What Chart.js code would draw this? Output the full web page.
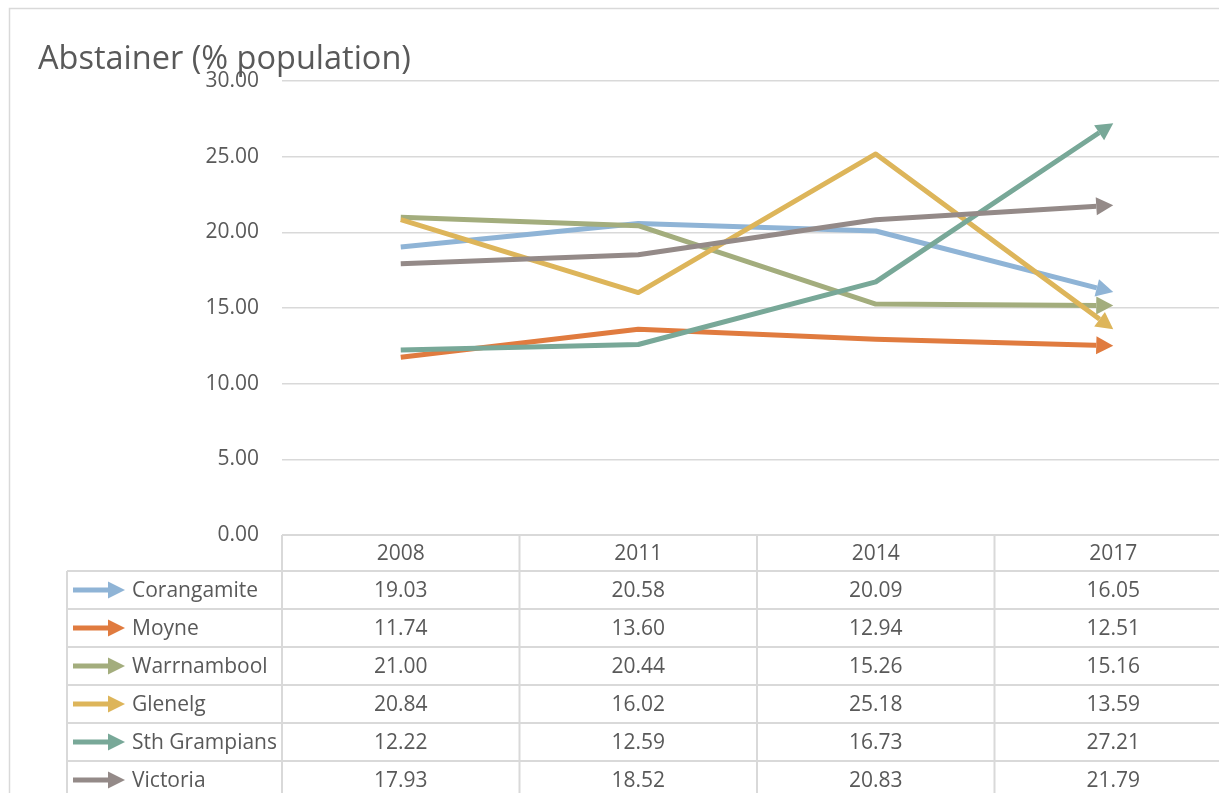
<!DOCTYPE html>
<html>
<head>
<meta charset="utf-8">
<title>Abstainer (% population)</title>
<script src="https://cdn.jsdelivr.net/npm/chart.js@4.4.1/dist/chart.umd.min.js"></script>
<style>
  html, body { margin: 0; padding: 0; background: #ffffff; overflow: hidden; }
  #wrap { position: relative; width: 1250px; height: 800px; }
  canvas { display: block; }
</style>
</head>
<body>
<div id="wrap"><canvas id="chart" width="1250" height="800"></canvas></div>
<script>
// Survey years (categories)
const years = ['2008', '2011', '2014', '2017'];

// Abstainers as % of population, by area
const seriesNames = ['Corangamite', 'Moyne', 'Warrnambool', 'Glenelg', 'Sth Grampians', 'Victoria'];
const corangamite  = [19.03, 20.58, 20.09, 16.05];
const moyne        = [11.74, 13.60, 12.94, 12.51];
const warrnambool  = [21.00, 20.44, 15.26, 15.16];
const glenelg      = [20.84, 16.02, 25.18, 13.59];
const sthGrampians = [12.22, 12.59, 16.73, 27.21];
const victoria     = [17.93, 18.52, 20.83, 21.79];

// Value axis ticks
const yTicks = [0, 5, 10, 15, 20, 25, 30];

const seriesValues = [corangamite, moyne, warrnambool, glenelg, sthGrampians, victoria];
const seriesColors = ['#8fb4d6', '#e07b3f', '#a3ad7d', '#ddb55a', '#78a898', '#948a88'];

const TEXT = '#595959';
const RULE = '#d9d9d9';
const FONT = '"Open Sans", "DejaVu Sans", sans-serif';
const HEAD_LEN = 17;
const HEAD_HALF = 9;

function arrowGeometry(meta) {
  const pts = meta.data;
  const p = pts[pts.length - 1];
  const q = pts[pts.length - 2];
  let dx = p.x - q.x, dy = p.y - q.y;
  const len = Math.hypot(dx, dy) || 1;
  dx /= len; dy /= len;
  const bx = p.x - dx * HEAD_LEN, by = p.y - dy * HEAD_LEN;
  return { tip: { x: p.x, y: p.y }, base: { x: bx, y: by }, dx, dy, px: -dy, py: dx };
}

// Line ends: stop the stroke at the arrow base, then draw a filled arrowhead
const arrowHeads = {
  id: 'arrowHeads',
  beforeDatasetDraw(chart, args) {
    const g = arrowGeometry(args.meta);
    const ctx = chart.ctx;
    const L = 5000;
    ctx.save();
    ctx.beginPath();
    ctx.moveTo(g.base.x + g.px * L, g.base.y + g.py * L);
    ctx.lineTo(g.base.x + g.px * L - g.dx * L, g.base.y + g.py * L - g.dy * L);
    ctx.lineTo(g.base.x - g.px * L - g.dx * L, g.base.y - g.py * L - g.dy * L);
    ctx.lineTo(g.base.x - g.px * L, g.base.y - g.py * L);
    ctx.closePath();
    ctx.clip();
  },
  afterDatasetDraw(chart, args) {
    const ctx = chart.ctx;
    ctx.restore();
    const g = arrowGeometry(args.meta);
    ctx.save();
    ctx.fillStyle = chart.data.datasets[args.index].borderColor;
    ctx.beginPath();
    ctx.moveTo(g.tip.x, g.tip.y);
    ctx.lineTo(g.base.x + g.px * HEAD_HALF, g.base.y + g.py * HEAD_HALF);
    ctx.lineTo(g.base.x - g.px * HEAD_HALF, g.base.y - g.py * HEAD_HALF);
    ctx.closePath();
    ctx.fill();
    ctx.restore();
  }
};

// Outer frame, title and the data table under the plot
const frameAndTable = {
  id: 'frameAndTable',
  beforeDraw(chart) {
    const ctx = chart.ctx;
    ctx.save();
    ctx.fillStyle = '#ffffff';
    ctx.fillRect(0, 0, chart.width, chart.height);
    ctx.strokeStyle = RULE;
    ctx.lineWidth = 1.5;
    ctx.beginPath();
    ctx.moveTo(9.5, chart.height + 10);
    ctx.lineTo(9.5, 8.5);
    ctx.lineTo(chart.width + 10, 8.5);
    ctx.stroke();
    ctx.restore();
  },
  afterDraw(chart) {
    const ctx = chart.ctx;
    const area = chart.chartArea;
    const x = chart.scales.x;
    const half = (x.getPixelForValue(1) - x.getPixelForValue(0)) / 2;
    const headTop = area.bottom;
    const headH = 36;
    const rowH = 38;
    const legendLeft = 67;
    const rowsTop = headTop + headH;
    const tableBottom = rowsTop + rowH * seriesNames.length;

    ctx.save();
    ctx.strokeStyle = RULE;
    ctx.lineWidth = 2;
    ctx.beginPath();
    // header row rule
    ctx.moveTo(area.left, headTop);
    ctx.lineTo(area.right + 20, headTop);
    // row rules
    for (let r = 0; r <= seriesNames.length; r++) {
      const y = rowsTop + r * rowH;
      ctx.moveTo(legendLeft, y);
      ctx.lineTo(area.right + 20, y);
    }
    // column rules
    ctx.moveTo(legendLeft, rowsTop);
    ctx.lineTo(legendLeft, tableBottom);
    for (let i = 0; i <= years.length; i++) {
      const cx = x.getPixelForValue(0) - half + i * 2 * half;
      ctx.moveTo(cx, headTop);
      ctx.lineTo(cx, tableBottom);
    }
    ctx.stroke();

    ctx.fillStyle = TEXT;
    ctx.font = '21px ' + FONT;
    ctx.textAlign = 'center';
    ctx.textBaseline = 'middle';
    years.forEach((yr, i) => {
      ctx.fillText(yr, x.getPixelForValue(i), headTop + headH / 2 + 1);
    });
    seriesValues.forEach((vals, r) => {
      const cy = rowsTop + r * rowH + rowH / 2 + 1;
      vals.forEach((v, i) => {
        ctx.fillText(v.toFixed(2), x.getPixelForValue(i), cy);
      });
    });

    // legend keys
    seriesNames.forEach((name, r) => {
      const cy = rowsTop + r * rowH + rowH / 2;
      const col = seriesColors[r];
      ctx.strokeStyle = col;
      ctx.lineWidth = 5;
      ctx.beginPath();
      ctx.moveTo(73, cy);
      ctx.lineTo(109, cy);
      ctx.stroke();
      ctx.fillStyle = col;
      ctx.beginPath();
      ctx.moveTo(125, cy);
      ctx.lineTo(108, cy - 8.5);
      ctx.lineTo(108, cy + 8.5);
      ctx.closePath();
      ctx.fill();
      ctx.fillStyle = TEXT;
      ctx.textAlign = 'left';
      ctx.fillText(name, 132, cy + 1);
    });

    // chart title
    ctx.font = '32.5px ' + FONT;
    ctx.textAlign = 'left';
    ctx.textBaseline = 'alphabetic';
    ctx.fillStyle = TEXT;
    ctx.fillText('Abstainer (% population)', 38, 69);
    ctx.restore();
  }
};

const datasets = seriesNames.map((name, i) => ({
  label: name,
  data: seriesValues[i],
  borderColor: seriesColors[i],
  backgroundColor: seriesColors[i],
  borderWidth: 5,
  borderJoinStyle: 'round',
  borderCapStyle: 'butt',
  pointRadius: 0,
  pointHoverRadius: 0,
  tension: 0,
  fill: false,
  order: seriesNames.length - 1 - i
}));

new Chart(document.getElementById('chart'), {
  type: 'line',
  data: { labels: years, datasets },
  plugins: [frameAndTable, arrowHeads],
  options: {
    responsive: false,
    animation: false,
    devicePixelRatio: 1,
    layout: { padding: { top: 81, right: 18, bottom: 265, left: 0 } },
    plugins: {
      legend: { display: false },
      title: { display: false },
      tooltip: { enabled: false }
    },
    scales: {
      x: {
        type: 'category',
        offset: true,
        display: false
      },
      y: {
        min: 0,
        max: 30,
        afterFit(scale) { scale.width = 282; },
        afterBuildTicks(scale) { scale.ticks = yTicks.map(v => ({ value: v })); },
        border: { display: false },
        grid: { color: RULE, lineWidth: 1.5, drawTicks: false },
        ticks: {
          padding: 23,
          color: TEXT,
          font: { family: FONT, size: 21 },
          callback: v => Number(v).toFixed(2)
        }
      }
    }
  }
});
</script>
</body>
</html>
